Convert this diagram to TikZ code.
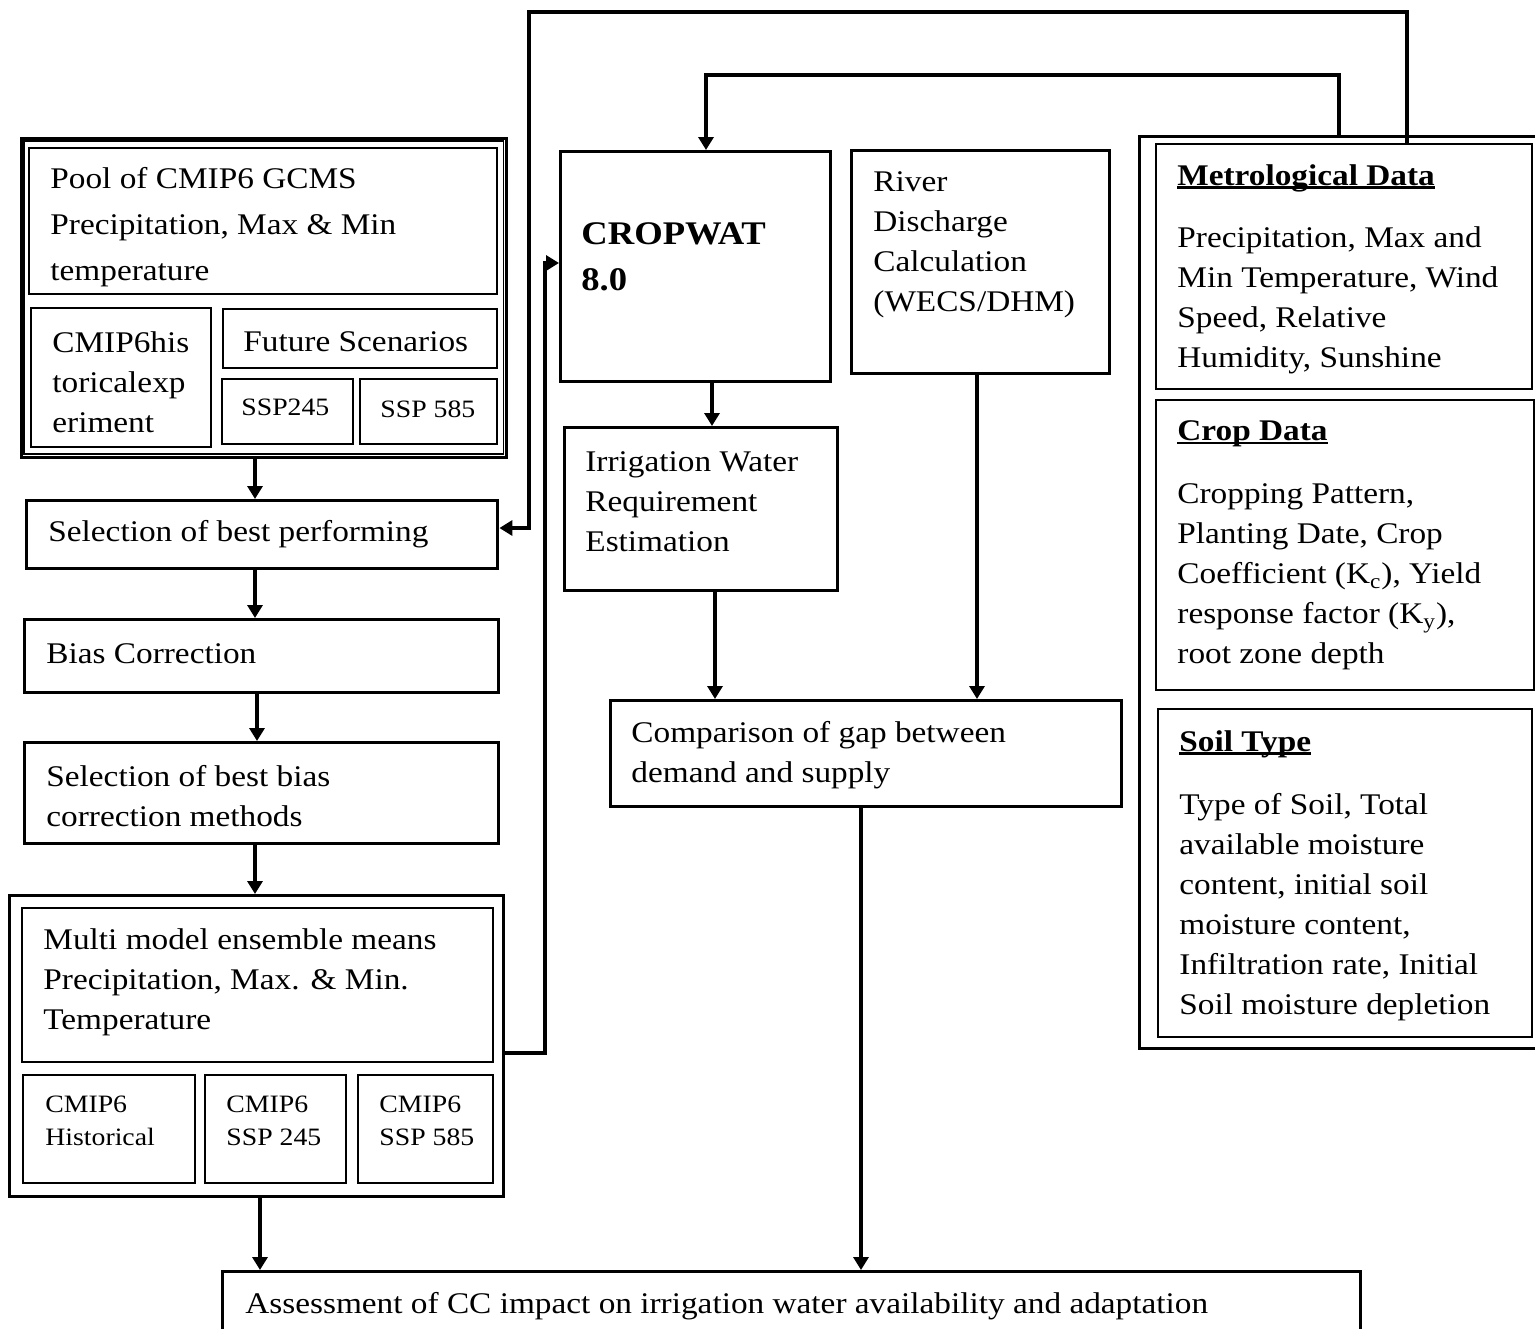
\documentclass[tikz,border=0pt]{standalone}
\usepackage{fontspec}
\setmainfont{Liberation Serif}[FakeStretch=1.11]
\usetikzlibrary{arrows.meta}
\newcommand\myul[1]{\setbox0\hbox{#1}\rlap{\rule[-1.7pt]{\wd0}{1.1pt}}\box0}
\begin{document}
\begin{tikzpicture}[x=0.5pt,y=-0.5pt,
 box/.style={draw, line width=1.7pt, inner sep=0pt, anchor=north west},
 sbox/.style={draw, line width=1pt, inner sep=0pt, anchor=north west},
 txt/.style={inner sep=0pt, anchor=west, align=left, yshift=-1.5pt, font=\fontsize{15pt}{20pt}\selectfont},
 stxt/.style={inner sep=0pt, anchor=west, align=left, yshift=-1.5pt, font=\fontsize{12.5pt}{16.5pt}\selectfont},
 arr/.style={line width=1.8pt, -{Triangle[length=6.5pt,width=7.5pt]}},
 thinframe/.style={line width=0.7pt}
]
\useasboundingbox (0,0) rectangle (1535,1328);

% ---------- left column ----------
\node[box, line width=1.5pt, minimum width=242.75pt, minimum height=159.5pt] (pool) at (19.5,136.5) {};
\draw[thinframe] ([xshift=2.25pt,yshift=-2.25pt]pool.north west) rectangle ([xshift=-2.25pt,yshift=2.25pt]pool.south east);
\node[sbox, minimum width=234.25pt, minimum height=73.25pt] (pooltop) at (27.5,146.5) {};
\node[sbox, minimum width=90pt, minimum height=69.5pt] (hist) at (30,307) {};
\node[sbox, minimum width=137pt, minimum height=29.5pt] (fut) at (222,308) {};
\node[sbox, minimum width=65.5pt, minimum height=32.5pt] (s245) at (221,378) {};
\node[sbox, minimum width=68.5pt, minimum height=32.5pt] (s585) at (359,378) {};

\node[txt, font=\fontsize{15pt}{23pt}\selectfont] (poolT) at (50,224) {Pool of CMIP6 GCMS\\Precipitation, Max \& Min\\temperature};
\node[txt] (histT) at (52,379) {CMIP6his\\toricalexp\\eriment};
\node[txt] (futT) at (243,339) {Future Scenarios};
\node[stxt] (s245T) at (241,404) {SSP245};
\node[stxt] (s585T) at (380,406) {SSP 585};

\node[box, minimum width=235.5pt, minimum height=34pt] (sel1) at (25,499) {};
\node[txt] (sel1T) at (48,531) {Selection of best performing};
\node[box, minimum width=237pt, minimum height=36.5pt] (bias) at (23,618) {};
\node[txt] (biasT) at (46,651) {Bias Correction};
\node[box, minimum width=237pt, minimum height=50.5pt] (sel2) at (23,741) {};
\node[txt] (sel2T) at (46,793) {Selection of best bias\\correction methods};

\node[box, minimum width=247pt, minimum height=150.5pt] (multi) at (8,894) {};
\node[sbox, minimum width=235.5pt, minimum height=77pt] (mtop) at (21,907) {};
\node[sbox, minimum width=86pt, minimum height=54pt] (mh) at (22,1074) {};
\node[sbox, minimum width=70.5pt, minimum height=54pt] (m245) at (204,1074) {};
\node[sbox, minimum width=67.5pt, minimum height=54pt] (m585) at (357,1074) {};
\node[txt] (multiT) at (43,979) {Multi model ensemble means\\Precipitation, Max. \& Min.\\Temperature};
\node[stxt] (mhT) at (45,1118) {CMIP6\\Historical};
\node[stxt] (m245T) at (226,1118) {CMIP6\\SSP 245};
\node[stxt] (m585T) at (379,1118) {CMIP6\\SSP 585};

\node[box, minimum width=569pt, minimum height=50pt] (assess) at (221,1270) {};
\node[txt] (assessT) at (245,1303) {Assessment of CC impact on irrigation water availability and adaptation};

% ---------- middle column ----------
\node[box, minimum width=135pt, minimum height=115pt] (cropwat) at (559,150) {};
\node[txt, font=\bfseries\fontsize{16.5pt}{23pt}\selectfont] (cwT) at (581,254) {CROPWAT\\8.0};
\node[box, minimum width=129pt, minimum height=111.5pt] (river) at (850,149) {};
\node[txt] (riverT) at (873,242) {River\\Discharge\\Calculation\\(WECS/DHM)};
\node[box, minimum width=136.5pt, minimum height=81.5pt] (irrig) at (563,426) {};
\node[txt] (irrT) at (585,499) {Irrigation Water\\Requirement\\Estimation};
\node[box, minimum width=255.5pt, minimum height=53pt] (comp) at (609,699) {};
\node[txt] (compT) at (631,752) {Comparison of gap between\\demand and supply};

% ---------- right column ----------
\node[box, minimum width=203.5pt, minimum height=456pt] (rframe) at (1138,135) {};
\node[sbox, minimum width=188pt, minimum height=122.5pt] (met) at (1155,143) {};
\node[sbox, minimum width=189pt, minimum height=145pt] (cropd) at (1155,399) {};
\node[sbox, minimum width=187pt, minimum height=164pt] (soil) at (1157,708) {};
\node[txt] (metH) at (1177,175) {\myul{\textbf{Metrological Data}}};
\node[txt] (metT) at (1177,297) {Precipitation, Max and\\Min Temperature, Wind\\Speed, Relative\\Humidity, Sunshine};
\node[txt] (cropH) at (1177,431) {\myul{\textbf{Crop Data}}};
\node[txt] (cropT) at (1177,574) {Cropping Pattern,\\Planting Date, Crop\\Coefficient (K\textsubscript{c}), Yield\\response factor (K\textsubscript{y}),\\root zone depth};
\node[txt] (soilH) at (1179,741) {\myul{\textbf{Soil Type}}};
\node[txt] (soilT) at (1179,904) {Type of Soil, Total\\available moisture\\content, initial soil\\moisture content,\\Infiltration rate, Initial\\Soil moisture depletion};

% ---------- connectors ----------
\coordinate (c255) at (255,0);
\coordinate (c257) at (257,0);
\coordinate (c260) at (260,0);
\coordinate (c712) at (712,0);
\coordinate (c715) at (715,0);
\coordinate (c977) at (977,0);
\coordinate (c861) at (861,0);
\draw[arr] (pool.south -| c255) -- (sel1.north -| c255);
\draw[arr] (sel1.south -| c255) -- (bias.north -| c255);
\draw[arr] (bias.south -| c257) -- (sel2.north -| c257);
\draw[arr] (sel2.south -| c255) -- (multi.north -| c255);
\draw[arr] (multi.south -| c260) -- (assess.north -| c260);
\draw[arr] (cropwat.south -| c712) -- (irrig.north -| c712);
\draw[arr] (irrig.south -| c715) -- (comp.north -| c715);
\draw[arr] (river.south -| c977) -- (comp.north -| c977);
\draw[arr] (comp.south -| c861) -- (assess.north -| c861);

\coordinate (m1) at (545,1053);
\coordinate (m2) at (545,263);
\draw[arr] (m1 -| multi.east) -- (m1) -- (m2) -- (m2 -| cropwat.west);

\coordinate (t1) at (1407,12);
\coordinate (t2) at (529,12);
\coordinate (t3) at (529,528);
\draw[arr] (t1 |- met.north) -- (t1) -- (t2) -- (t3) -- (t3 -| sel1.east);

\coordinate (u1) at (1339,75);
\coordinate (u2) at (706,75);
\draw[arr] (u1 |- rframe.north) -- (u1) -- (u2) -- (u2 |- cropwat.north);
\end{tikzpicture}
\end{document}
